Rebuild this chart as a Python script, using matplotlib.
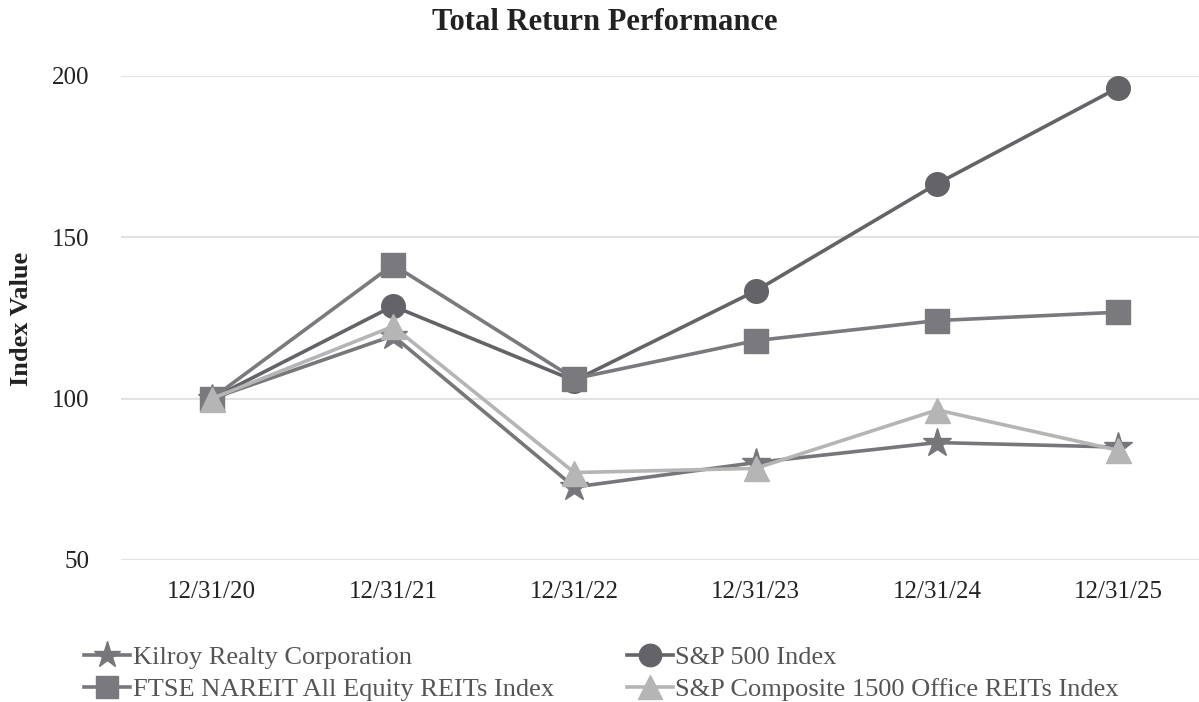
import matplotlib
matplotlib.use("Agg")
from matplotlib import pyplot as plt

dates = ["12/31/20", "12/31/21", "12/31/22", "12/31/23", "12/31/24", "12/31/25"]
kilroy = [100, 119.5, 72.6, 80.2, 86.4, 85.0]
sp500 = [100, 128.7, 105.6, 133.4, 166.6, 196.4]
ftse_nareit = [100, 141.5, 106.2, 118.0, 124.2, 126.8]
office_reits = [100, 122.4, 77.1, 78.4, 96.5, 84.0]

plt.rcParams['font.family'] = ['Liberation Serif', 'DejaVu Serif']

fig = plt.figure(figsize=(11.99, 7.02), dpi=100)
ax = fig.add_axes([121 / 1199, 142 / 702, 1088 / 1199, 484 / 702])

x = list(range(len(dates)))
lw = 2.6
h_kil, = ax.plot(x, kilroy, color="#77777b", lw=lw, marker="*", markersize=21,
                 label="Kilroy Realty Corporation", clip_on=False, zorder=3)
h_sp, = ax.plot(x, sp500, color="#646468", lw=lw, marker="o", markersize=17,
                label="S&P 500 Index", clip_on=False, zorder=4)
h_ftse, = ax.plot(x, ftse_nareit, color="#7a7a7e", lw=lw, marker="s", markersize=17,
                  label="FTSE NAREIT All Equity REITs Index", clip_on=False, zorder=5)
h_off, = ax.plot(x, office_reits, color="#b5b5b5", lw=lw, marker="^", markersize=18,
                 label="S&P Composite 1500 Office REITs Index", clip_on=False, zorder=6)

ax.set_xlim(-0.5, 5.5)
ax.set_ylim(50, 200)
ax.set_yticks([50, 100, 150, 200])
ax.set_xticks(x)
ax.set_xticklabels(dates)
ax.grid(axis="y", color="#e3e3e3", lw=1.5)
ax.set_axisbelow(True)
for s in ax.spines.values():
    s.set_visible(False)
ax.tick_params(length=0, labelsize=18, colors="#222222")
ax.tick_params(axis="y", pad=23)
ax.tick_params(axis="x", pad=15)

fig.text(22 / 1199, 1 - 319 / 702, "Index Value", rotation=90, ha="center", va="center",
         fontsize=19, fontweight="bold", color="#222222")
fig.text(605 / 1199, 1 - 22 / 702, "Total Return Performance", ha="center", va="center",
         fontsize=22, fontweight="bold", color="#222222")

fig.legend([h_kil, h_ftse, h_sp, h_off],
           [h.get_label() for h in [h_kil, h_ftse, h_sp, h_off]],
           ncol=2, frameon=False, loc="upper left", bbox_to_anchor=(84 / 1199, 1 - 646 / 702),
           borderpad=0, borderaxespad=0,
           fontsize=19, handlelength=1.75, handletextpad=0.1, columnspacing=2.75,
           labelspacing=0.3, markerscale=0.95, labelcolor="#555555")

fig.savefig("out.png", dpi=100)
